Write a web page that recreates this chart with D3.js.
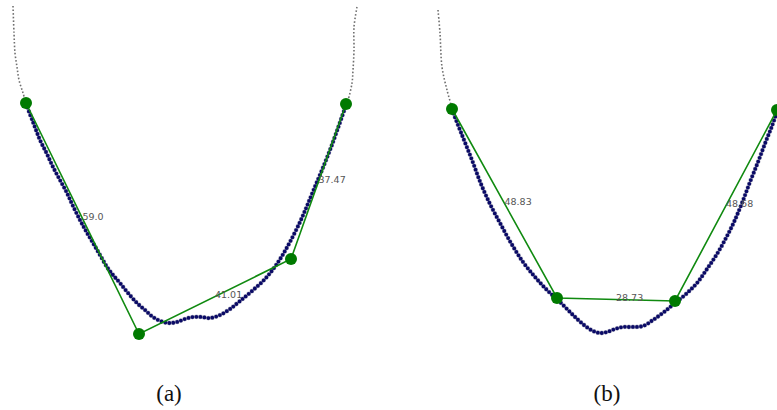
<!DOCTYPE html>
<html>
<head>
<meta charset="utf-8">
<script src="https://cdn.jsdelivr.net/npm/d3@7"></script>
<style>
  html, body { margin: 0; padding: 0; background: #fff; }
  svg { display: block; }
</style>
</head>
<body>
<div id="chart"></div>
<script>
// Panel (a): traced contour, grey ends and fitted polyline (frame coordinates)
const CURVE_A = [[26,104],[33,122],[40,140],[47,154],[53,167],[60,180],[67,193],[73,206],
  [80,220],[86,231],[93,243],[100,255],[107,267],[113,275],[120,283],[128,293],[137,303],
  [145,310],[153,317],[163,322],[170,323],[177,322],[185,319],[193,317],[201,317],
  [210,318],[220,315],[230,309],[240,301],[252,291],[264,280],[274,268],[282,256],
  [291,240],[300,222],[307,206],[314,189],[322,170],[330,150],[338,128],[346,105]];
const TAIL_A = [[[13,6],[14,33],[15,53],[17,67],[19,80],[23,93],[26,103]],
  [[357,7],[354,27],[354,50],[353,70],[352,83],[348,100],[346,104]]];
const NODES_A = [[26,103],[139,334],[291,259],[346,104]];
const LENGTHS_A = ["59.0", "41.01", "37.47"];

// Panel (b)
const CURVE_B = [[32,110],[42,135],[52,160],[61,184],[70,204],[80,223],[91,243],[103,262],
  [115,277],[127,290],[140,302],[153,315],[164,325],[173,331],[180,333],[187,332],
  [195,329],[203,327],[212,327],[223,326],[233,320],[244,312],[255,303],[266,294],
  [277,283],[287,269],[297,254],[306,238],[314,222],[322,203],[330,182],[338,162],
  [346,141],[352,126],[357,112]];
const TAIL_B = [[[18,10],[20,33],[22,67],[27,90],[32,108]]];
const NODES_B = [[32,109],[137,298],[255,301],[357,110]];
const LENGTHS_B = ["48.83", "28.73", "48.68"];

const CAPTIONS = ["(a)", "(b)"];

const WIDTH = 777, HEIGHT = 410;

const svg = d3.select("#chart").append("svg")
  .attr("width", WIDTH)
  .attr("height", HEIGHT);

function drawPanel(offset, curve, tails, nodes, lengths, caption, captionX) {

  const x = d3.scaleLinear().domain([0, 360]).range([offset, offset + 360]);
  const y = d3.scaleLinear().domain([0, 410]).range([0, 410]);

  const line = d3.line()
    .x(function(d) { return x(d[0]); })
    .y(function(d) { return y(d[1]); })
    .curve(d3.curveCatmullRom);

  const g = svg.append("g");

  // grey dotted ends of the contour
  tails.forEach(function(t) {
    g.append("path")
      .attr("d", line(t))
      .attr("fill", "none")
      .attr("stroke", "#6f6f6f")
      .attr("stroke-width", 1.6)
      .attr("stroke-dasharray", "1.6,2");
  });

  // navy dotted contour with a light halo
  g.append("path")
    .attr("d", line(curve))
    .attr("fill", "none")
    .attr("stroke", "#b4b4c4")
    .attr("stroke-width", 4.8)
    .attr("stroke-linecap", "round")
    .attr("stroke-dasharray", "0,4");

  g.append("path")
    .attr("d", line(curve))
    .attr("fill", "none")
    .attr("stroke", "#0a0a66")
    .attr("stroke-width", 3.8)
    .attr("stroke-linecap", "round")
    .attr("stroke-dasharray", "0,4");

  // fitted polyline
  g.append("path")
    .attr("d", d3.line().x(function(d) { return x(d[0]); }).y(function(d) { return y(d[1]); })(nodes))
    .attr("fill", "none")
    .attr("stroke", "#108a10")
    .attr("stroke-width", 1.6);

  g.selectAll("circle.node")
    .data(nodes)
    .enter().append("circle")
    .attr("class", "node")
    .attr("cx", function(d) { return x(d[0]); })
    .attr("cy", function(d) { return y(d[1]); })
    .attr("r", 6)
    .attr("fill", "#007a00");

  // segment lengths, placed at each segment's midpoint
  g.selectAll("text.len")
    .data(lengths)
    .enter().append("text")
    .attr("class", "len")
    .attr("x", function(d, i) { return x((nodes[i][0] + nodes[i + 1][0]) / 2); })
    .attr("y", function(d, i) { return y((nodes[i][1] + nodes[i + 1][1]) / 2) + 1; })
    .attr("font-family", "DejaVu Sans")
    .attr("font-size", 9.5)
    .attr("fill", "#555")
    .text(function(d) { return d; });

  g.append("text")
    .attr("x", x(captionX))
    .attr("y", 401)
    .attr("text-anchor", "middle")
    .attr("font-family", "Liberation Serif")
    .attr("font-size", 23)
    .attr("fill", "#111")
    .text(caption);
}

drawPanel(0, CURVE_A, TAIL_A, NODES_A, LENGTHS_A, CAPTIONS[0], 169);
drawPanel(420, CURVE_B, TAIL_B, NODES_B, LENGTHS_B, CAPTIONS[1], 187);
</script>
</body>
</html>
